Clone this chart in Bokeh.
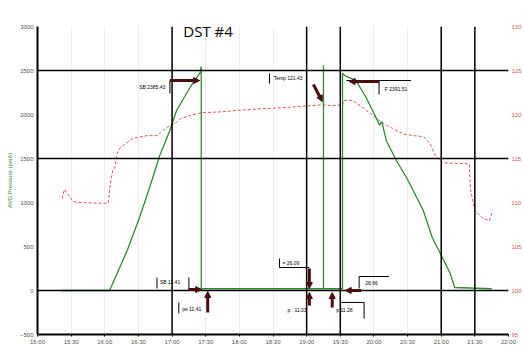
from bokeh.plotting import figure
from bokeh.models import (Range1d, LinearAxis, FixedTicker, Span, Label, Arrow,
                          NormalHead)
from bokeh.embed import file_html
from bokeh.resources import INLINE


def hrs(t):
    hh, mm = t.split(":")
    return int(hh) + int(mm) / 60.0


# ---- data ----
tick_labels = ["15:00", "15:30", "16:00", "16:30", "17:00", "17:30", "18:00", "18:30",
               "19:00", "19:30", "20:00", "20:30", "21:00", "21:30", "22:00"]

pressure_time = ["15:22", "16:04", "16:05", "16:20", "16:31", "16:40", "16:49", "16:58",
                 "17:04", "17:16", "17:25", "17:26", "17:26", "19:15", "19:15", "19:15",
                 "19:32", "19:32", "19:34", "19:44", "19:53", "20:01", "20:05", "20:07",
                 "20:11", "20:20", "20:29", "20:35", "20:44", "20:52", "21:01", "21:08",
                 "21:12", "21:45"]
pressure_psi = [0, 0, 20, 455, 830, 1170, 1534, 1818,
                2045, 2307, 2477, 2545, 20, 20, 2557, 20,
                20, 2470, 2443, 2386, 2193, 1989, 1880, 1920,
                1705, 1477, 1284, 1136, 909, 602, 375, 193,
                34, 20]

temp_time = ["15:22", "15:24", "15:31", "15:35", "16:03", "16:05", "16:07", "16:09",
             "16:11", "16:14", "16:25", "16:38", "16:47", "16:52", "16:58", "17:04",
             "17:07", "17:16", "17:27", "17:43", "18:12", "18:42", "19:14", "19:23",
             "19:32", "19:33", "19:41", "19:50", "19:59", "20:08", "20:17", "20:26",
             "20:35", "20:44", "20:50", "20:55", "21:01", "21:25", "21:26", "21:30",
             "21:37", "21:43", "21:46"]
temp_deg = [110.45, 111.5, 110.2, 110.0, 109.9, 112.2, 113.6, 114.0,
            115.6, 116.25, 117.3, 117.6, 117.6, 118.2, 118.75, 119.1,
            119.5, 119.9, 120.2, 120.3, 120.6, 120.8, 121.1, 121.0,
            121.1, 121.6, 121.6, 120.8, 119.9, 119.0, 118.4, 117.8,
            117.6, 117.5, 116.7, 115.3, 114.5, 114.4, 111.5, 109.1,
            108.2, 107.95, 109.1]

marker_times = ["17:00", "19:00", "19:30", "21:00", "21:30"]
marker_psi = [2500, 1500, 0]
left_ticks = [-500, 0, 500, 1000, 1500, 2000, 2500, 3000]
right_ticks = [95, 100, 105, 110, 115, 120, 125, 130]

tick_pos = [hrs(t) for t in tick_labels]

p = figure(width=524, height=350, x_range=Range1d(15, 22), y_range=Range1d(-500, 3000),
           output_backend="svg", toolbar_location=None,
           min_border_left=37, min_border_right=14, min_border_top=26, min_border_bottom=16)
p.outline_line_color = None
p.background_fill_color = "white"
p.border_fill_color = "white"

p.extra_y_ranges = {"temp": Range1d(95, 130)}

# grids
p.xgrid.ticker = FixedTicker(ticks=tick_pos)
p.xgrid.grid_line_color = "#ececec"
p.ygrid.grid_line_color = None

# bottom axis
xa = p.xaxis[0]
xa.ticker = FixedTicker(ticks=tick_pos)
xa.major_label_overrides = {v: l for v, l in zip(tick_pos, tick_labels)}
xa.major_label_text_font_size = "6px"
xa.major_label_text_color = "#555555"
xa.major_label_standoff = 2
xa.major_tick_in = 0
xa.major_tick_out = 2
xa.minor_tick_line_color = None
xa.axis_line_width = 2
xa.axis_line_color = "black"

# left axis
ya = p.yaxis[0]
ya.ticker = FixedTicker(ticks=left_ticks)
ya.major_label_text_font_size = "6px"
ya.major_label_text_color = "#555555"
ya.major_label_standoff = 4
ya.major_tick_in = 0
ya.major_tick_out = 0
ya.minor_tick_line_color = None
ya.axis_line_width = 2
ya.axis_line_color = "black"
ya.axis_label = "AVG Pressure (psiA)"
ya.axis_label_text_font_size = "6px"
ya.axis_label_text_font_style = "normal"
ya.axis_label_text_color = "#2e8b2e"
ya.axis_label_standoff = 4

# right axis
ra = LinearAxis(y_range_name="temp", ticker=FixedTicker(ticks=right_ticks))
ra.major_label_text_font_size = "6px"
ra.major_label_text_color = "#d9534f"
ra.major_label_standoff = 3
ra.major_tick_in = 0
ra.major_tick_out = 0
ra.minor_tick_line_color = None
ra.axis_line_color = None
p.add_layout(ra, "right")

# heavy reference lines
for t in marker_times:
    p.add_layout(Span(location=hrs(t), dimension="height", line_color="black", line_width=1.5))
for v in marker_psi:
    p.add_layout(Span(location=v, dimension="width", line_color="black", line_width=1.5))

# series
p.line([hrs(t) for t in temp_time], temp_deg, y_range_name="temp",
       line_color="#e05555", line_width=1, line_dash="3 2")
p.line([hrs(t) for t in pressure_time], pressure_psi,
       line_color="#2e8b2e", line_width=1.3)

# title
p.add_layout(Label(x=hrs("17:10"), y=2950, text="DST #4", text_font=("Open Sans"),
                   text_font_size="15px", text_color="black", text_baseline="middle"))

# date under first tick
p.add_layout(Label(x=15.0, y=-640, text="7/1/2010", text_font_size="5px",
                   text_color="#555555", text_baseline="middle"))

DARK = "#4a0d0d"


def arrow(x0, y0, x1, y1):
    p.add_layout(Arrow(end=NormalHead(size=6, fill_color=DARK, line_color=DARK),
                       x_start=x0, y_start=y0, x_end=x1, y_end=y1,
                       line_color=DARK, line_width=3))


def seg(x0, y0, x1, y1):
    p.segment(x0=[x0], y0=[y0], x1=[x1], y1=[y1], line_color="black", line_width=1)


def note(x, y, text, align="left"):
    p.add_layout(Label(x=x, y=y, text=text, text_font_size="5px", text_color="black",
                       text_baseline="middle", text_align=align))


# top-left annotation
seg(16.968, 2386, 16.968, 2239)
note(16.90, 2307, "SB 2385.43", "right")
arrow(16.968, 2386, 17.41, 2386)

# top-middle annotation
seg(18.448, 2466, 18.448, 2352)
note(18.51, 2420, "Temp 121.43")
arrow(19.10, 2341, 19.233, 2148)

# top-right annotation
seg(19.59, 2386, 20.55, 2386)
seg(20.076, 2386, 20.076, 2227)
arrow(20.076, 2375, 19.632, 2375)
note(20.16, 2295, "F 2391.51")

# bottom annotations
seg(16.776, 148, 16.776, 23)
note(16.82, 102, "SB 11.41")
seg(17.25, 148, 17.25, 0)
arrow(17.25, 11, 17.44, 11)

seg(17.10, -136, 17.10, -261)
note(17.15, -205, "pe 11.41")
arrow(17.53, -250, 17.53, -11)

seg(18.596, 364, 18.596, 261)
seg(18.596, 261, 19.04, 261)
note(18.64, 307, "= 26.09")
arrow(19.04, 250, 19.04, 23)

note(19.0, -227, "p . 11.03", "right")
arrow(19.04, -170, 19.04, -23)

arrow(19.38, -193, 19.38, -23)
seg(19.514, -136, 19.854, -136)
seg(19.854, -136, 19.854, -318)
note(19.44, -227, "p  11.28")

seg(19.78, 159, 19.78, 23)
seg(19.78, 159, 20.224, 159)
note(19.87, 80, "28.66")
arrow(19.81, 0, 19.573, 0)

open("out.html", "w").write(file_html(p, INLINE))
